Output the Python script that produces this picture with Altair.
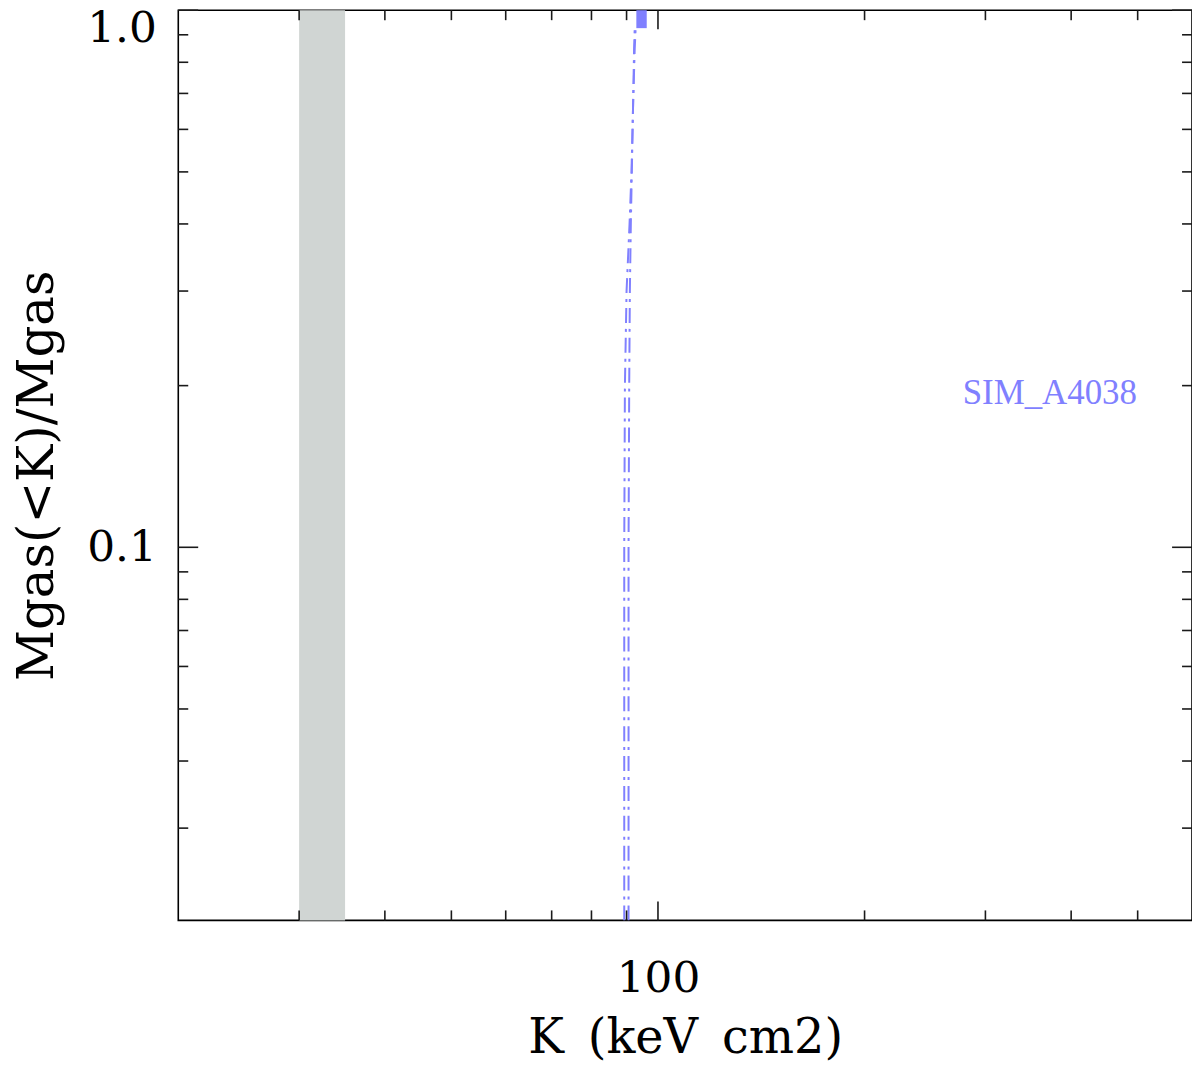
import altair as alt
import pandas as pd

# ---- data ----
band_k_lo = [30.0]
band_k_hi = [35.0]

left_k = [89.3, 89.3, 89.5, 90.0, 90.9, 91.5, 92.0, 92.3, 92.5]
left_f = [0.0202, 0.1, 0.2, 0.3, 0.4, 0.5, 0.67, 0.85, 0.93]
right_k = [90.6, 90.6, 90.8, 91.0, 91.3, 91.6, 92.0, 92.5, 92.8]
right_f = [0.0202, 0.1, 0.2, 0.3, 0.4, 0.5, 0.67, 0.85, 0.93]

cap_k_lo = [93.0]
cap_k_hi = [96.3]
cap_f_lo = [0.926]
cap_f_hi = [1.0]

sim_k = [278.0]
sim_f = [0.185]
sim_text = ["SIM_A4038"]

x_major = [100]
x_minor = [30, 40, 50, 60, 70, 80, 90, 200, 300, 400, 500]
y_major = [0.1, 1.0]
y_minor = [0.03, 0.04, 0.05, 0.06, 0.07, 0.08, 0.09,
           0.2, 0.3, 0.4, 0.5, 0.6, 0.7, 0.8, 0.9]

x_title = "K\u2002(keV\u2002cm2)"
y_title = "Mgas(<K)/Mgas"

W, H = 1018, 914
BLUE = "#8080ff"
TICK = "#1a1a1a"
FONT = "DejaVu Serif"

xscale = alt.Scale(type="log", domain=[20, 600], nice=False, zero=False)
yscale = alt.Scale(type="log", domain=[0.0202, 1.0], nice=False, zero=False)

xaxis = alt.Axis(values=x_major, format="d", ticks=False, tickSize=0, domain=False, grid=False,
                 labelFont=FONT, labelFontSize=44, labelColor="#000", labelBaseline="alphabetic",
                 labelPadding=71, labelFlush=False,
                 title=x_title, titleFont=FONT, titleFontSize=48, titleFontWeight="normal",
                 titleColor="#000", titleBaseline="alphabetic", titleY=133)
yaxis = alt.Axis(values=y_major, format=".1f", ticks=False, tickSize=0, domain=False, grid=False,
                 labelFont=FONT, labelFontSize=44, labelColor="#000", labelBaseline="middle",
                 labelOffset={"condition": {"test": "datum.value >= 0.99", "value": 18},
                              "value": 0},
                 labelPadding=22, labelFlush=False,
                 title=y_title, titleFont=FONT, titleFontSize=50, titleFontWeight="normal",
                 titleColor="#000", titleAngle=270, titleBaseline="alphabetic", titleAlign="center",
                 titleX=-126, titleY=467)

X = lambda f: alt.X(f"{f}:Q", scale=xscale, axis=xaxis)
Y = lambda f: alt.Y(f"{f}:Q", scale=yscale, axis=yaxis)

band_df = pd.DataFrame({"K": band_k_lo, "K2": band_k_hi})
band = alt.Chart(band_df).mark_rect(color="#d0d5d3").encode(
    x=X("K"), x2="K2", y=alt.value(0), y2=alt.value(H))

lines_df = pd.concat([
    pd.DataFrame({"K": left_k, "F": left_f, "s": "a", "i": range(len(left_k))}),
    pd.DataFrame({"K": right_k, "F": right_f, "s": "b", "i": range(len(right_k))}),
])
lines = alt.Chart(lines_df).mark_line(color=BLUE, strokeWidth=2, strokeDash=[15, 6, 3, 6],
                                      clip=True).encode(
    x=X("K"), y=Y("F"), detail="s:N", order="i:Q")

cap_df = pd.DataFrame({"K": cap_k_lo, "K2": cap_k_hi, "F": cap_f_lo, "F2": cap_f_hi})
cap = alt.Chart(cap_df).mark_rect(color=BLUE).encode(
    x=X("K"), x2="K2", y=Y("F"), y2="F2")

sim_df = pd.DataFrame({"K": sim_k, "F": sim_f, "t": sim_text})
sim = alt.Chart(sim_df).mark_text(color=BLUE, font="Liberation Serif", fontSize=35,
                                  align="left", baseline="alphabetic").encode(
    x=X("K"), y=Y("F"), text="t:N")

layers = [band, lines, cap, sim]

def xticks(vals, length):
    df = pd.DataFrame({"K": vals})
    b = alt.Chart(df).mark_rule(color=TICK, strokeWidth=1.6).encode(
        x=X("K"), y=alt.value(H), y2=alt.value(H - length))
    t = alt.Chart(df).mark_rule(color=TICK, strokeWidth=1.6).encode(
        x=X("K"), y=alt.value(0), y2=alt.value(length))
    return [b, t]

def yticks(vals, length):
    df = pd.DataFrame({"F": vals})
    l = alt.Chart(df).mark_rule(color=TICK, strokeWidth=1.6).encode(
        y=Y("F"), x=alt.value(0), x2=alt.value(length))
    r = alt.Chart(df).mark_rule(color=TICK, strokeWidth=1.6).encode(
        y=Y("F"), x=alt.value(W), x2=alt.value(W - length))
    return [l, r]

layers += xticks(x_minor, 10) + xticks(x_major, 19) + yticks(y_minor, 10) + yticks(y_major, 20)

chart = alt.layer(*layers).properties(
    width=W, height=H,
    autosize=alt.AutoSizeParams(type="none"),
    padding={"left": 171, "top": 0, "right": 0, "bottom": 142},
    background="white",
).configure_view(stroke="#000", strokeWidth=1.6)

chart.save("out.html", embed_options={"renderer": "svg", "actions": False})
